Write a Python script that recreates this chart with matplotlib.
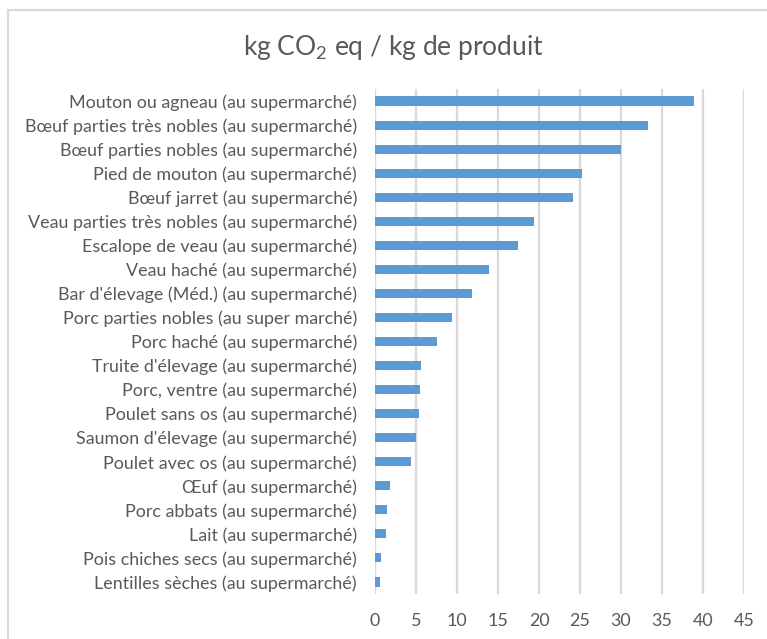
import matplotlib
matplotlib.use("Agg")
import matplotlib.pyplot as plt
from matplotlib.patches import Rectangle

plt.rcParams['font.family'] = ['Lato', 'DejaVu Sans']

categories = [
    "Mouton ou agneau (au supermarché)",
    "Bœuf parties très nobles (au supermarché)",
    "Bœuf parties nobles (au supermarché)",
    "Pied de mouton (au supermarché)",
    "Bœuf jarret (au supermarché)",
    "Veau parties très nobles (au supermarché)",
    "Escalope de veau (au supermarché)",
    "Veau haché (au supermarché)",
    "Bar d'élevage (Méd.) (au supermarché)",
    "Porc parties nobles (au super marché)",
    "Porc haché (au supermarché)",
    "Truite d'élevage (au supermarché)",
    "Porc, ventre (au supermarché)",
    "Poulet sans os (au supermarché)",
    "Saumon d'élevage (au supermarché)",
    "Poulet avec os (au supermarché)",
    "Œuf (au supermarché)",
    "Porc abbats (au supermarché)",
    "Lait (au supermarché)",
    "Pois chiches secs (au supermarché)",
    "Lentilles sèches (au supermarché)",
]
values = [38.9, 33.3, 30.0, 25.3, 24.1, 19.35, 17.4, 13.9, 11.8, 9.4, 7.5,
          5.6, 5.5, 5.4, 5.0, 4.35, 1.87, 1.46, 1.34, 0.73, 0.61]
x_ticks = [0, 5, 10, 15, 20, 25, 30, 35, 40, 45]

bar_color = "#5B9BD5"
text_color = "#595959"
grid_color = "#D9D9D9"

fig = plt.figure(figsize=(7.67, 6.39), dpi=100)
ax = fig.add_axes([375 / 767, 1 - 594 / 639, (744 - 375) / 767, (594 - 89) / 639])

ypos = list(range(len(categories)))
ax.barh(ypos, values, height=0.38, color=bar_color, zorder=3)
ax.set_ylim(len(categories) - 0.5, -0.5)
ax.set_xlim(0, 45)
ax.set_yticks(ypos)
ax.set_yticklabels(categories, fontsize=12.9, color=text_color)
ax.set_xticks(x_ticks)
ax.set_xticklabels([str(t) for t in x_ticks], fontsize=12.9, color=text_color)
ax.tick_params(axis='both', length=0)
ax.tick_params(axis='y', pad=13)
ax.tick_params(axis='x', pad=14)
ax.grid(axis='x', color=grid_color, linewidth=1.6, zorder=0)
for s in ax.spines.values():
    s.set_visible(False)
ax.axvline(0, color=grid_color, linewidth=1.6, zorder=1)

fig.text(393 / 767, 1 - 48 / 639, r"kg CO$_\mathregular{2}$ eq / kg de produit",
         ha='center', va='center', fontsize=19, color=text_color)

# chart frame
fig.patches.append(Rectangle((8 / 767, -0.1), 1.2, 1 - 10 / 639 + 0.1,
                             transform=fig.transFigure, fill=False,
                             edgecolor="#D9D9D9", linewidth=1.5))

fig.savefig("out.png", dpi=100)
